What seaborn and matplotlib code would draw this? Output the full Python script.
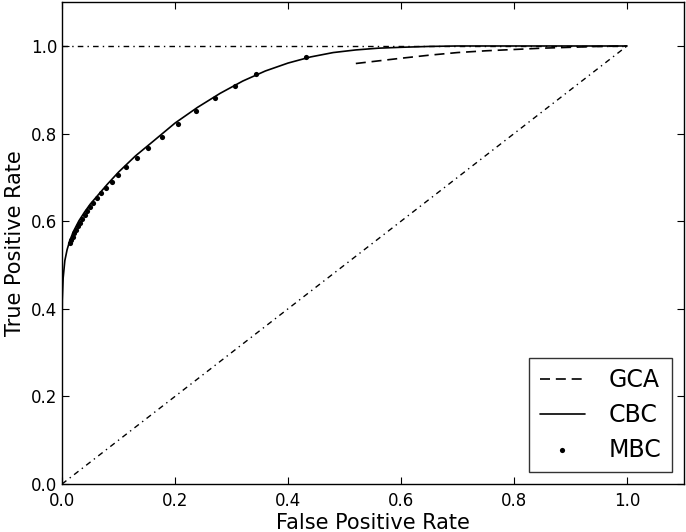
import numpy as np
import pandas as pd
import matplotlib
matplotlib.use('Agg')
import matplotlib.pyplot as plt
import seaborn as sns

# GCA curve (dashed)
gca_fpr = [0.52, 0.56, 0.60, 0.65, 0.70, 0.75, 0.80, 0.85, 0.90, 0.95, 1.00]
gca_tpr = [0.960, 0.966, 0.972, 0.979, 0.985, 0.989, 0.992, 0.995, 0.997, 0.999, 1.000]

# CBC curve (solid)
cbc_fpr = [0.0, 0.0005, 0.002, 0.005, 0.009, 0.0136, 0.02, 0.03, 0.04, 0.05, 0.06,
           0.08, 0.10, 0.13, 0.16, 0.20, 0.24, 0.28, 0.32, 0.36, 0.40, 0.44,
           0.48, 0.52, 0.56, 0.60, 0.65, 0.70, 0.80, 0.90, 1.00]
cbc_tpr = [0.30, 0.42, 0.47, 0.51, 0.535, 0.555, 0.576, 0.601, 0.621, 0.639, 0.654,
           0.684, 0.712, 0.749, 0.781, 0.824, 0.860, 0.892, 0.920, 0.943, 0.961, 0.975,
           0.985, 0.991, 0.995, 0.997, 0.999, 1.000, 1.000, 1.000, 1.000]

# MBC points (dots)
mbc_fpr = [0.0136, 0.016, 0.019, 0.022, 0.025, 0.028, 0.032, 0.036, 0.040, 0.045,
           0.050, 0.0555, 0.0614, 0.069, 0.0773, 0.088, 0.0997, 0.114, 0.132,
           0.153, 0.177, 0.206, 0.237, 0.271, 0.307, 0.344, 0.432]
mbc_tpr = [0.551, 0.557, 0.565, 0.572, 0.580, 0.588, 0.597, 0.606, 0.615, 0.624,
           0.633, 0.642, 0.652, 0.664, 0.675, 0.689, 0.706, 0.724, 0.744,
           0.768, 0.793, 0.822, 0.852, 0.881, 0.909, 0.935, 0.974]

# reference lines
chance = [0.0, 1.0]
perfect_x = [0.0, 1.0]
perfect_y = [1.0, 1.0]

sns.set_style('white', {'axes.edgecolor': 'black', 'xtick.direction': 'in',
                        'ytick.direction': 'in', 'xtick.top': True, 'ytick.right': True,
                        'xtick.bottom': True, 'ytick.left': True,
                        'text.color': 'black', 'axes.labelcolor': 'black',
                        'xtick.color': 'black', 'ytick.color': 'black'})
plt.rcParams['font.family'] = ['DejaVu Sans']

fig = plt.figure(figsize=(6.86, 5.32), dpi=100)
ax = fig.add_axes([0.0904, 0.0902, 0.906, 0.9057])

sns.lineplot(x=gca_fpr, y=gca_tpr, ax=ax, color='black', lw=1.2, linestyle='--',
             sort=False, estimator=None, label='GCA')
ax.lines[-1].set_dashes([6, 3.5])
sns.lineplot(x=cbc_fpr, y=cbc_tpr, ax=ax, color='black', lw=1.2, sort=False,
             estimator=None, label='CBC')
sns.scatterplot(x=mbc_fpr, y=mbc_tpr, ax=ax, color='black', s=14, edgecolor='black',
                linewidth=0, label='MBC', zorder=3)
ax.plot(chance, chance, color='black', lw=1, linestyle=(0, (4, 3, 1, 3)))
ax.plot(perfect_x, perfect_y, color='black', lw=1, linestyle=(0, (4, 3, 1, 3)))

ax.set_xlim(0, 1.1)
ax.set_ylim(0, 1.1)
ax.set_xticks([0.0, 0.2, 0.4, 0.6, 0.8, 1.0])
ax.set_yticks([0.0, 0.2, 0.4, 0.6, 0.8, 1.0])
ax.tick_params(direction='in', length=5, width=0.8, labelsize=12, top=True, right=True,
               colors='black')
ax.tick_params(axis='x', pad=6)
for s in ax.spines.values():
    s.set_linewidth(1.0)
ax.set_xlabel('False Positive Rate', fontsize=15, labelpad=2)
ax.set_ylabel('True Positive Rate', fontsize=15)

leg = ax.legend(loc='lower right', fontsize=17, frameon=True, fancybox=False,
                edgecolor='black', handlelength=1.9, handletextpad=1.0,
                borderpad=0.45, labelspacing=0.45, borderaxespad=0.5)
leg.get_frame().set_linewidth(1.0)
for t in leg.get_texts():
    t.set_color('black')

fig.savefig('out.png', dpi=100)
